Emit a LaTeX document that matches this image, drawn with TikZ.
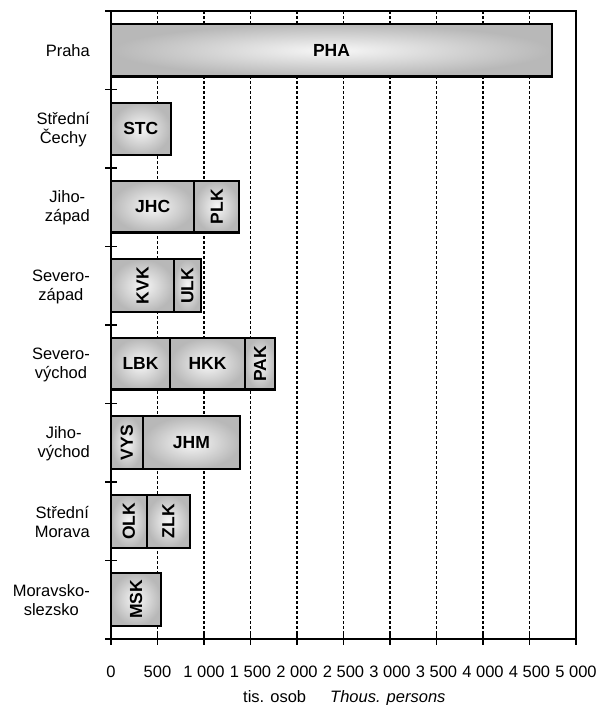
\documentclass[tikz,border=0pt]{standalone}
\usepackage{fontspec}
\setmainfont{Liberation Sans}
\begin{document}
\begin{tikzpicture}[x=1pt,y=-1pt,
  seg/.style={draw=black, line width=2.2pt, inner color=black!3, outer color=black!28},
  grid/.style={densely dashed, line width=1.1pt, black},
  frame/.style={draw=black, line width=2.4pt},
  tickline/.style={black, line width=1.8pt},
  barlab/.style={font=\fontsize{17.5}{20}\selectfont\bfseries, inner sep=0pt},
  vbarlab/.style={barlab, rotate=90},
  catlab/.style={font=\fontsize{16.5}{19}\selectfont, align=center, anchor=east, inner sep=0pt},
  ticklab/.style={font=\fontsize{16.5}{19}\selectfont, anchor=base, inner sep=0pt},
  titlelab/.style={font=\fontsize{16.5}{19}\selectfont, anchor=base west, inner sep=0pt}]
\useasboundingbox (0,0) rectangle (598,705);
% grid lines
\foreach \k in {1,...,9} {
  \draw[grid] ({111+46.5*\k},11) -- ({111+46.5*\k},639);
}
% bars
% Praha
\path[seg] (111,24) rectangle (552,76.5);
\node[barlab] (pha) at (331.5,50.3) {PHA};
% Stredni Cechy
\path[seg] (111,102.7) rectangle (170.7,155);
\node[barlab] (stc) at (140.8,128.9) {STC};
% Jihozapad
\path[seg] (111,181) rectangle (194.3,232.5);
\path[seg] (194.3,181) rectangle (239.3,232.5);
\node[barlab] (jhc) at (152.7,206.7) {JHC};
\node[vbarlab] (plk) at (216.8,206.7) {PLK};
% Severozapad
\path[seg] (111,259.3) rectangle (174,312.3);
\path[seg] (174,259.3) rectangle (201,312.3);
\node[vbarlab] (kvk) at (142.5,285.8) {KVK};
\node[vbarlab] (ulk) at (187.5,285.8) {ULK};
% Severovychod
\path[seg] (111,337.7) rectangle (170,389.5);
\path[seg] (170,337.7) rectangle (245,389.5);
\path[seg] (245,337.7) rectangle (275,389.5);
\node[barlab] (lbk) at (140.5,363.6) {LBK};
\node[barlab] (hkk) at (207.5,363.6) {HKK};
\node[vbarlab] (pak) at (260,363.6) {PAK};
% Jihovychod
\path[seg] (111,416) rectangle (142.7,469.3);
\path[seg] (142.7,416) rectangle (240,469.3);
\node[vbarlab] (vys) at (126.9,442.7) {VYS};
\node[barlab] (jhm) at (191.4,442.7) {JHM};
% Stredni Morava
\path[seg] (111,495) rectangle (146.7,547.7);
\path[seg] (146.7,495) rectangle (190,547.7);
\node[vbarlab] (olk) at (128.9,521.3) {OLK};
\node[vbarlab] (zlk) at (168.4,521.3) {ZLK};
% Moravskoslezsko
\path[seg] (111,572.7) rectangle (161,625.7);
\node[vbarlab] (msk) at (136,599.2) {MSK};
% frame
\draw[frame] (111,11) rectangle (576,639);
% ticks
\foreach \k in {0,...,8} {
  \draw[tickline] (105,{11+78.5*\k}) -- (117,{11+78.5*\k});
}
\foreach \k in {0,...,10} {
  \draw[tickline] ({111+46.5*\k},633) -- ({111+46.5*\k},645);
}
% category labels
\node[catlab] (c1) at (90,50.5) {Praha};
\node[catlab] (c2) at (90,129.5) {Střední\\Čechy};
\node[catlab] (c3) at (90,208) {Jiho-\\západ};
\node[catlab] (c4) at (90,286.5) {Severo-\\západ};
\node[catlab] (c5) at (90,365) {Severo-\\východ};
\node[catlab] (c6) at (90,443.5) {Jiho-\\východ};
\node[catlab] (c7) at (90,522) {Střední\\Morava};
\node[catlab] (c8) at (90,600.5) {Moravsko-\\slezsko};
% tick labels
\node[ticklab] (t0) at (111,677) {0};
\node[ticklab] (t1) at (157.5,677) {500};
\node[ticklab] (t2) at (204,677) {1 000};
\node[ticklab] (t3) at (250.5,677) {1 500};
\node[ticklab] (t4) at (297,677) {2 000};
\node[ticklab] (t5) at (343.5,677) {2 500};
\node[ticklab] (t6) at (390,677) {3 000};
\node[ticklab] (t7) at (436.5,677) {3 500};
\node[ticklab] (t8) at (483,677) {4 000};
\node[ticklab] (t9) at (529.5,677) {4 500};
\node[ticklab] (t10) at (576,677) {5 000};
% axis title
\node[titlelab] (ta) at (243,702) {tis. osob};
\node[titlelab] (tb) at (330,702) {\itshape Thous. persons};
\end{tikzpicture}
\end{document}
